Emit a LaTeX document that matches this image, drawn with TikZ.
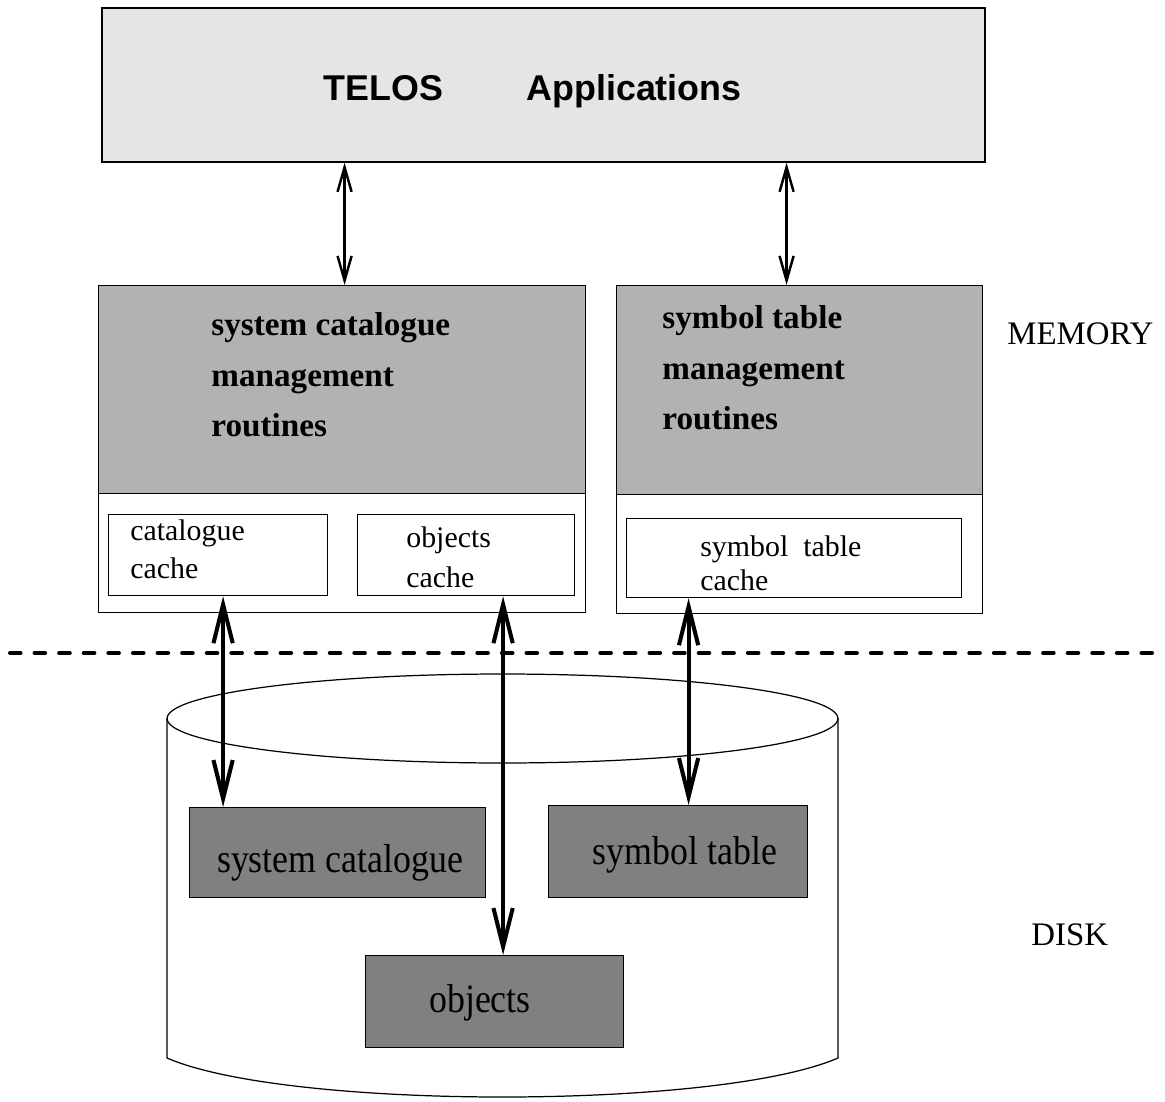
\documentclass[tikz,border=0pt]{standalone}
\usepackage{fontspec}
\usepackage{graphicx}
\usetikzlibrary{arrows.meta,calc}
\newfontfamily\timesfont{Liberation Serif}
\newfontfamily\arialfont{Liberation Sans}

\begin{document}
\begin{tikzpicture}[x=0.02cm,y=-0.02cm,line cap=round,
  box/.style={draw,line width=0.7pt,anchor=north west,inner sep=0pt},
  mgmt/.style={box,fill=black!30},
  disk/.style={box,fill=black!50},
  mgmttext/.style={anchor=north west,inner sep=0pt,align=left,font=\timesfont\bfseries\fontsize{18.9}{28.9}\selectfont},
  cachetext/.style={anchor=north west,inner sep=0pt,align=left},
  disktext/.style={anchor=base,inner sep=0pt,font=\timesfont\fontsize{23}{27}\selectfont},
  sidetext/.style={anchor=base west,inner sep=0pt,font=\timesfont\fontsize{18.7}{22}\selectfont},
  thinarr/.style={{Straight Barb[length=14pt,width=8pt]}-{Straight Barb[length=14pt,width=8pt]},line width=1.4pt},
  thickarr/.style={{Straight Barb[length=22pt,width=11pt]}-{Straight Barb[length=22pt,width=11pt]},line width=2.3pt}]
\useasboundingbox (0,0) rectangle (1165,1101);

% applications
\node[box,fill=black!10,line width=1pt,minimum width=17.66cm,minimum height=3.08cm] (telos) at (101,7) {};
\node[anchor=base,inner sep=0pt,font=\arialfont\bfseries\fontsize{20.4}{24}\selectfont] (apps) at (532.5,101) {TELOS\hspace{47.6pt}Applications};

% memory part
\node[box,fill=white,minimum width=9.74cm,minimum height=2.38cm] (syslow) at (98,493) {};
\node[mgmt,minimum width=9.74cm,minimum height=4.16cm] (sysman) at (98,285) {};
\node[mgmttext] (sysmantxt) at (211,312) {system catalogue\\management\\routines};
\node[box,minimum width=4.38cm,minimum height=1.62cm] (catcache) at (108,514) {};
\node[cachetext,font=\timesfont\fontsize{17}{21.5}\selectfont] (catcachetxt) at (130,519.5) {catalogue\\cache};
\node[box,minimum width=4.34cm,minimum height=1.62cm] (objcache) at (357,514) {};
\node[cachetext,font=\timesfont\fontsize{17}{22.7}\selectfont] (objcachetxt) at (406,526.5) {objects\\cache};

\node[box,fill=white,minimum width=7.32cm,minimum height=2.38cm] (symlow) at (616,494) {};
\node[mgmt,minimum width=7.32cm,minimum height=4.18cm] (symman) at (616,285) {};
\node[mgmttext] (symmantxt) at (662,305) {symbol table\\management\\routines};
\node[box,minimum width=6.7cm,minimum height=1.58cm] (symcache) at (626,518) {};
\node[cachetext,font=\timesfont\fontsize{17}{19.3}\selectfont] (symcachetxt) at (700,535.5) {symbol\ \ table\\cache};

\node[sidetext] (memory) at (1007,344) {MEMORY};
\node[sidetext] (disklbl) at (1031,945) {DISK};

% border memory/disk
\coordinate (dashl) at (10,653);
\coordinate (dashr) at (1165,653);
\draw[line width=2.3pt,dash pattern=on 6pt off 8pt] (dashl) -- (dashr);

% disk
\coordinate (cyl) at (502.5,718.5);
\draw[line width=0.7pt] (cyl) ellipse [x radius=6.71cm,y radius=0.89cm];
\draw[line width=0.7pt] (167,718.5) -- (167,1058) .. controls (287,1110) and (718,1110) .. (838,1058) -- (838,718.5);
\node[disk,minimum width=5.92cm,minimum height=1.8cm] (syscat) at (189,807) {};
\node[disktext] (syscattxt) at (340,872) {\scalebox{0.887}[1]{system catalogue}};
\node[disk,minimum width=5.18cm,minimum height=1.84cm] (symtab) at (548,805) {};
\node[disktext] (symtabtxt) at (685,864) {\scalebox{0.887}[1]{symbol table}};
\node[disk,minimum width=5.16cm,minimum height=1.84cm] (objects) at (365,955) {};
\node[disktext] (objectstxt) at (480,1012) {\scalebox{0.887}[1]{objects}};

% connections
\coordinate (a1) at ($(sysman.north)+(2.5,0)$);
\coordinate (a2) at ($(symman.north)+(-13,0)$);
\draw[thinarr] (a1) -- (a1 |- telos.south);
\draw[thinarr] (a2) -- (a2 |- telos.south);
\coordinate (c1) at ($(catcache.south)+(5,0)$);
\coordinate (c2) at ($(objcache.south)+(37,0)$);
\coordinate (c3) at ($(symcache.south)+(-105.5,0)$);
\draw[thickarr] (c1) -- (c1 |- syscat.north);
\draw[thickarr] (c2) -- (c2 |- objects.north);
\draw[thickarr] (c3) -- (c3 |- symtab.north);
\end{tikzpicture}
\end{document}
